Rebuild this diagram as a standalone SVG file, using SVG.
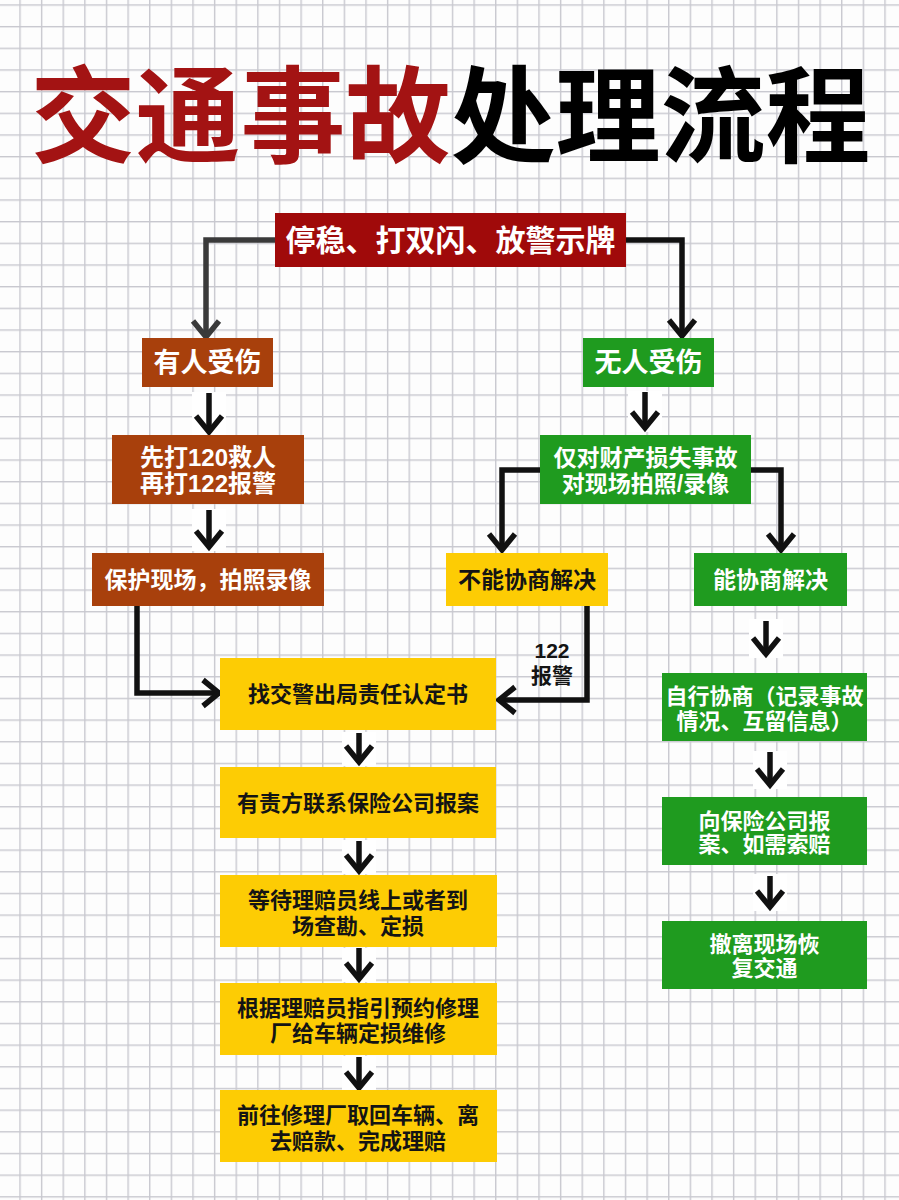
<svg xmlns="http://www.w3.org/2000/svg" width="899" height="1200" viewBox="0 0 899 1200">
  <defs>
    <pattern id="grid" patternUnits="userSpaceOnUse" x="19.3" y="4.3" width="21.625" height="21.67">
      <rect x="0" y="0" width="1.4" height="21.67" fill="#c8c8cf"/>
      <rect x="0" y="0" width="21.625" height="1.4" fill="#c8c8cf"/>
    </pattern>
    <marker id="chev" markerUnits="userSpaceOnUse" viewBox="-22 -18 26 36" markerWidth="26" markerHeight="36" refX="0" refY="0" orient="auto" overflow="visible">
      <path d="M-16,-13 L0,0 L-16,13" fill="none" stroke="#111" stroke-width="5.5" stroke-linejoin="miter" stroke-linecap="butt"/>
    </marker>
    <marker id="chevg" markerUnits="userSpaceOnUse" viewBox="-22 -18 26 36" markerWidth="26" markerHeight="36" refX="0" refY="0" orient="auto" overflow="visible">
      <path d="M-16,-13 L0,0 L-16,13" fill="none" stroke="#3a3a3a" stroke-width="5.5" stroke-linejoin="miter" stroke-linecap="butt"/>
    </marker>
    <style>
      .t { font-family: "Liberation Sans", "Noto Sans CJK SC", sans-serif; font-weight: 700; text-anchor: middle; }
      .w { fill: #ffffff; }
      .k { fill: #141414; }
      .red { fill: #a00a0a; }
      .brown { fill: #a8400c; }
      .green { fill: #1f9b1f; }
      .yellow { fill: #fdcc04; }
      .ln { fill: none; stroke: #111; stroke-width: 5.5; marker-end: url(#chev); }
      .halo { fill: #ffffff; }
    </style>
  </defs>

  <rect x="0" y="0" width="899" height="1200" fill="#fdfdfd"/>
  <rect x="0" y="0" width="899" height="1200" fill="url(#grid)"/>

  <g id="title">
    <text class="t" x="450.5" y="154" font-size="105" font-weight="900"><tspan fill="#a31313">交通事故</tspan><tspan fill="#000">处理流程</tspan></text>
  </g>

  <g id="connectors">
    <path d="M276,240 H206 V337" fill="none" stroke="#3a3a3a" stroke-width="5.5" marker-end="url(#chevg)"/>
    <path class="ln" d="M625,240 H682 V336"/>
    <path class="ln" d="M541,470 H502 V550"/>
    <path class="ln" d="M750,470 H781 V550"/>
    <path class="ln" d="M587,606 V700 H499"/>
    <path class="ln" d="M137,606 V693 H219"/>
    <g>
      <rect class="halo" x="192" y="392" width="34" height="44"/>
      <rect class="halo" x="192" y="509" width="34" height="42"/>
      <rect class="halo" x="628" y="391" width="34" height="41"/>
      <rect class="halo" x="342" y="732" width="34" height="34"/>
      <rect class="halo" x="342" y="840" width="34" height="34"/>
      <rect class="halo" x="342" y="948" width="34" height="34"/>
      <rect class="halo" x="342" y="1056" width="34" height="34"/>
      <rect class="halo" x="749" y="619" width="34" height="39"/>
      <rect class="halo" x="753" y="751" width="34" height="38"/>
      <rect class="halo" x="753" y="874" width="34" height="37"/>
    </g>
    <path class="ln" d="M209,393 V432"/>
    <path class="ln" d="M209,510 V547"/>
    <path class="ln" d="M645,392 V428"/>
    <path class="ln" d="M359,733 V762"/>
    <path class="ln" d="M359,841 V871"/>
    <path class="ln" d="M359,948 V979"/>
    <path class="ln" d="M359,1057 V1088"/>
    <path class="ln" d="M766,621 V654"/>
    <path class="ln" d="M770,752 V785"/>
    <path class="ln" d="M770,876 V907"/>
    <text class="t k" x="552" y="658" font-size="21"><tspan x="552" y="658">122</tspan><tspan x="552" y="683">报警</tspan></text>
  </g>

  <g id="n-start">
    <rect class="red" x="275" y="213" width="351" height="54"/>
    <text class="t w" x="450.5" y="250.5" font-size="30">停稳、打双闪、放警示牌</text>
  </g>

  <g id="n-injured">
    <rect class="brown" x="142" y="338" width="131" height="49"/>
    <text class="t w" x="207.5" y="372" font-size="27">有人受伤</text>
  </g>
  <g id="n-call">
    <rect class="brown" x="112" y="435" width="192" height="69"/>
    <text class="t w" font-size="24"><tspan x="208" y="466">先打120救人</tspan><tspan x="208" y="492">再打122报警</tspan></text>
  </g>
  <g id="n-protect">
    <rect class="brown" x="92" y="553" width="232" height="53"/>
    <text class="t w" x="208" y="588" font-size="23">保护现场，拍照录像</text>
  </g>

  <g id="n-noinjury">
    <rect class="green" x="583" y="338" width="131" height="49"/>
    <text class="t w" x="648.5" y="372" font-size="27">无人受伤</text>
  </g>
  <g id="n-property">
    <rect class="green" x="540" y="435" width="211" height="69"/>
    <text class="t w" font-size="23"><tspan x="645.5" y="465.5">仅对财产损失事故</tspan><tspan x="645.5" y="491.5">对现场拍照/录像</tspan></text>
  </g>
  <g id="n-cannot">
    <rect class="yellow" x="446" y="553" width="162" height="53"/>
    <text class="t k" x="527" y="588" font-size="23">不能协商解决</text>
  </g>
  <g id="n-can">
    <rect class="green" x="694" y="553" width="153" height="53"/>
    <text class="t w" x="770.5" y="588" font-size="23">能协商解决</text>
  </g>

  <g id="n-police">
    <rect class="yellow" x="220" y="658" width="276" height="72"/>
    <text class="t k" x="358" y="702" font-size="22">找交警出局责任认定书</text>
  </g>
  <g id="n-report">
    <rect class="yellow" x="220" y="767" width="276" height="71"/>
    <text class="t k" x="358" y="810.5" font-size="22">有责方联系保险公司报案</text>
  </g>
  <g id="n-wait">
    <rect class="yellow" x="220" y="875" width="277" height="72"/>
    <text class="t k" font-size="22"><tspan x="358" y="908">等待理赔员线上或者到</tspan><tspan x="358" y="934">场查勘、定损</tspan></text>
  </g>
  <g id="n-repair">
    <rect class="yellow" x="220" y="983" width="277" height="72"/>
    <text class="t k" font-size="22"><tspan x="358" y="1015.5">根据理赔员指引预约修理</tspan><tspan x="358" y="1040.5">厂给车辆定损维修</tspan></text>
  </g>
  <g id="n-finish">
    <rect class="yellow" x="220" y="1090" width="277" height="72"/>
    <text class="t k" font-size="22"><tspan x="358" y="1123">前往修理厂取回车辆、离</tspan><tspan x="358" y="1149">去赔款、完成理赔</tspan></text>
  </g>

  <g id="n-negotiate">
    <rect class="green" x="662" y="673" width="205" height="68"/>
    <text class="t w" font-size="22"><tspan x="764.5" y="703.5">自行协商（记录事故</tspan><tspan x="764.5" y="729">情况、互留信息）</tspan></text>
  </g>
  <g id="n-insure">
    <rect class="green" x="662" y="797" width="205" height="68"/>
    <text class="t w" font-size="22"><tspan x="764.5" y="828.5">向保险公司报</tspan><tspan x="764.5" y="852">案、如需索赔</tspan></text>
  </g>
  <g id="n-leave">
    <rect class="green" x="662" y="921" width="205" height="68"/>
    <text class="t w" font-size="22"><tspan x="764.5" y="952">撤离现场恢</tspan><tspan x="764.5" y="975.5">复交通</tspan></text>
  </g>
</svg>
